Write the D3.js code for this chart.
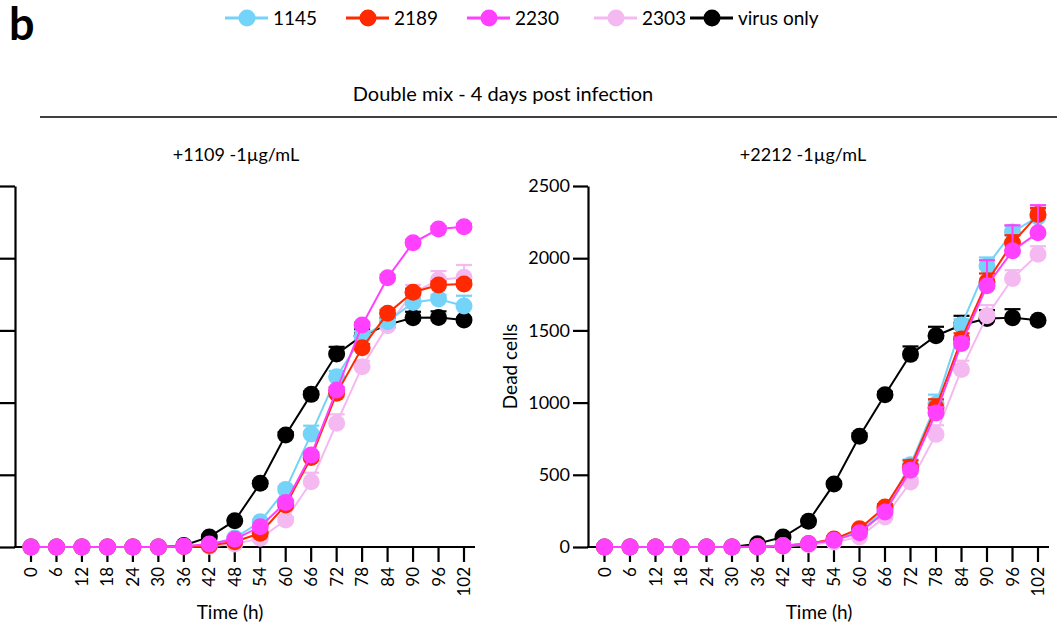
<!DOCTYPE html>
<html>
<head>
<meta charset="utf-8">
<script src="https://cdn.jsdelivr.net/npm/d3@7"></script>
<style>
  body { margin: 0; background: #fff; }
  svg { font-family: "Lato", "Open Sans", sans-serif; }
</style>
</head>
<body>
<div id="chart"></div>
<script>

// ---- data ----
var times = [0, 6, 12, 18, 24, 30, 36, 42, 48, 54, 60, 66, 72, 78, 84, 90, 96, 102];
var yTicks = [0, 500, 1000, 1500, 2000, 2500];

// legend order
var legendNames = ["1145", "2189", "2230", "2303", "virus only"];
// draw order (bottom to top)
var drawOrder = ["virus only", "2303", "1145", "2189", "2230"];
var seriesColors = {"1145": "#74d3f8", "2189": "#ff2a00", "2230": "#ff40ff", "2303": "#f5b9f2", "virus only": "#000000"};

var panelTitles = ["+1109 -1\u00b5g/mL", "+2212 -1\u00b5g/mL"];

// panel 1 : +1109
var p1Virus = [0, 0, 0, 0, 0, 0, 10, 70, 182, 441, 776, 1057, 1336, 1463, 1540, 1588, 1590, 1572];
var p1VirusErr = [0, 0, 0, 0, 0, 0, 0, 8, 10, 15, 20, 20, 50, 45, 45, 41, 42, 15];
var p1S2303 = [0, 0, 0, 0, 0, 0, 3, 5, 20, 60, 187, 452, 857, 1249, 1533, 1760, 1849, 1868];
var p1S2303Err = [0, 0, 0, 0, 0, 0, 0, 0, 5, 10, 20, 62, 62, 40, 40, 55, 62, 85];
var p1S1145 = [0, 0, 0, 0, 0, 0, 3, 15, 62, 175, 399, 782, 1179, 1456, 1560, 1694, 1717, 1669];
var p1S1145Err = [0, 0, 0, 0, 0, 0, 0, 0, 5, 15, 20, 58, 40, 40, 30, 30, 30, 71];
var p1S2189 = [0, 0, 0, 0, 0, 0, 3, 10, 37, 95, 291, 620, 1064, 1380, 1618, 1764, 1814, 1821];
var p1S2189Err = [0, 0, 0, 0, 0, 0, 0, 0, 5, 10, 20, 20, 20, 25, 25, 25, 25, 25];
var p1S2230 = [0, 0, 0, 0, 0, 0, 5, 21, 53, 141, 309, 637, 1087, 1537, 1865, 2107, 2202, 2218];
var p1S2230Err = [0, 0, 0, 0, 0, 0, 0, 0, 5, 10, 15, 20, 20, 20, 20, 20, 20, 20];

// panel 2 : +2212
var p2Virus = [0, 0, 0, 0, 0, 0, 23, 69, 178, 437, 767, 1055, 1334, 1463, 1537, 1583, 1588, 1571];
var p2VirusErr = [0, 0, 0, 0, 0, 0, 0, 5, 10, 15, 20, 20, 55, 62, 64, 57, 59, 10];
var p2S2303 = [0, 0, 0, 0, 0, 0, 2, 5, 15, 35, 69, 208, 450, 780, 1230, 1601, 1859, 2028];
var p2S2303Err = [0, 0, 0, 0, 0, 0, 0, 0, 5, 5, 10, 20, 30, 63, 60, 74, 58, 55];
var p2S1145 = [0, 0, 0, 0, 0, 0, 2, 8, 25, 50, 110, 260, 570, 990, 1537, 1947, 2182, 2286];
var p2S1145Err = [0, 0, 0, 0, 0, 0, 0, 0, 5, 5, 10, 20, 35, 65, 40, 58, 40, 50];
var p2S2189 = [0, 0, 0, 0, 0, 0, 2, 8, 22, 55, 127, 277, 554, 965, 1440, 1836, 2106, 2302];
var p2S2189Err = [0, 0, 0, 0, 0, 0, 0, 0, 5, 5, 10, 20, 46, 58, 40, 58, 53, 46];
var p2S2230 = [0, 0, 0, 0, 0, 0, 2, 10, 23, 46, 99, 242, 531, 928, 1410, 1809, 2051, 2177];
var p2S2230Err = [0, 0, 0, 0, 0, 0, 0, 0, 5, 5, 10, 20, 30, 40, 40, 177, 177, 190];

var panelData = [
    {"virus only": [p1Virus, p1VirusErr], "2303": [p1S2303, p1S2303Err], "1145": [p1S1145, p1S1145Err],
     "2189": [p1S2189, p1S2189Err], "2230": [p1S2230, p1S2230Err]},
    {"virus only": [p2Virus, p2VirusErr], "2303": [p2S2303, p2S2303Err], "1145": [p2S1145, p2S1145Err],
     "2189": [p2S2189, p2S2189Err], "2230": [p2S2230, p2S2230Err]}
];


var W = 1057, H = 627;
var svg = d3.select("#chart").append("svg").attr("width", W).attr("height", H);

// panel label + legend + header
svg.append("text").attr("x", 9).attr("y", 40)
    .style("font-size", "45px").style("font-weight", "bold").text("b");

var legendCenters = [247, 368, 489, 616, 712];
var legend = svg.append("g");
legendNames.forEach(function(name, i) {
    var cx = legendCenters[i];
    var g = legend.append("g").attr("transform", "translate(" + cx + ",18)");
    g.append("line").attr("x1", -22).attr("x2", 21)
        .attr("stroke", seriesColors[name]).attr("stroke-width", 3);
    g.append("circle").attr("r", 8.5).attr("fill", seriesColors[name]);
    g.append("text").attr("x", 26).attr("y", 7)
        .style("font-size", "19px").text(name);
});

svg.append("text").attr("x", 503).attr("y", 101).attr("text-anchor", "middle")
    .style("font-size", "20px").text("Double mix - 4 days post infection");
svg.append("line").attr("x1", 40).attr("x2", W).attr("y1", 117).attr("y2", 117)
    .attr("stroke", "#000").attr("stroke-width", 1.5);


/**
 * PanelVis -- one time course panel
 * _showYText -- the left panel is cropped in the figure, so its y labels are not drawn
 */
PanelVis = function(_parent, _data, _title, _axisX, _x0, _x1, _titleX, _xLabelX, _showYText){
    this.parent = _parent;
    this.data = _data;
    this.title = _title;
    this.axisX = _axisX;
    this.x0 = _x0;
    this.x1 = _x1;
    this.titleX = _titleX;
    this.xLabelX = _xLabelX;
    this.showYText = _showYText;
    this.top = 186;
    this.bottom = 547;
    this.initVis();
}

PanelVis.prototype.initVis = function(){
    this.x = d3.scaleLinear().domain([0, 102]).range([this.x0, this.x1]);
    this.y = d3.scaleLinear().domain([0, 2500]).range([this.bottom, this.top]);
    this.g = this.parent.append("g");
    this.updateVis();
}

PanelVis.prototype.updateVis = function(){
    var that = this;
    var g = this.g;

    g.append("text").attr("x", this.titleX).attr("y", 161).attr("text-anchor", "middle")
        .style("font-size", "18px").text(this.title);

    // y axis
    var yAxis = d3.axisLeft(this.y).tickValues(yTicks).tickFormat(d3.format("d"))
        .tickSize(15).tickPadding(3).tickSizeOuter(0);
    var ya = g.append("g").attr("transform", "translate(" + this.axisX + ",0)").call(yAxis);
    ya.select(".domain").attr("stroke-width", 2.2);
    ya.selectAll(".tick line").attr("stroke-width", 2.2);
    ya.selectAll(".tick text").style("font-size", "18px").style("font-family", "Lato");

    if (this.showYText) {
        g.append("text")
            .attr("transform", "translate(" + (this.axisX - 71) + "," + ((this.top + this.bottom) / 2) + ") rotate(-90)")
            .attr("text-anchor", "middle").style("font-size", "19px").text("Dead cells");
    } else {
        ya.selectAll(".tick text").remove();
    }

    // x axis
    var xEnd = this.x1 + 11;
    g.append("line").attr("x1", this.axisX - 1).attr("x2", xEnd)
        .attr("y1", this.bottom).attr("y2", this.bottom)
        .attr("stroke", "#000").attr("stroke-width", 2.2);
    var xt = g.selectAll(".xtick").data(times).enter().append("g")
        .attr("class", "xtick")
        .attr("transform", function(d){ return "translate(" + that.x(d) + "," + that.bottom + ")"; });
    xt.append("line").attr("y1", 0).attr("y2", 15).attr("stroke", "#000").attr("stroke-width", 2.2);
    xt.append("text").attr("transform", "translate(6,20) rotate(-90)")
        .attr("text-anchor", "end").style("font-size", "17px").text(function(d){ return d; });

    g.append("text").attr("x", this.xLabelX).attr("y", 619).attr("text-anchor", "middle")
        .style("font-size", "19px").text("Time (h)");

    // series
    var line = d3.line()
        .x(function(d){ return that.x(d.t); })
        .y(function(d){ return that.y(d.v); });

    drawOrder.forEach(function(name){
        var vals = that.data[name][0], errs = that.data[name][1];
        var pts = times.map(function(t, i){ return {t: t, v: vals[i], e: errs[i]}; });
        var col = seriesColors[name];
        var sg = g.append("g");

        var eb = sg.selectAll(".err").data(pts.filter(function(d){ return d.e > 0; })).enter().append("g");
        eb.append("line")
            .attr("x1", function(d){ return that.x(d.t); }).attr("x2", function(d){ return that.x(d.t); })
            .attr("y1", function(d){ return that.y(d.v); }).attr("y2", function(d){ return that.y(d.v + d.e); })
            .attr("stroke", col).attr("stroke-width", 2);
        eb.append("line")
            .attr("x1", function(d){ return that.x(d.t) - 8; }).attr("x2", function(d){ return that.x(d.t) + 8; })
            .attr("y1", function(d){ return that.y(d.v + d.e); }).attr("y2", function(d){ return that.y(d.v + d.e); })
            .attr("stroke", col).attr("stroke-width", 2.2);

        sg.append("path").datum(pts).attr("d", line)
            .attr("fill", "none").attr("stroke", col).attr("stroke-width", 2);

        sg.selectAll("circle").data(pts).enter().append("circle")
            .attr("cx", function(d){ return that.x(d.t); })
            .attr("cy", function(d){ return that.y(d.v); })
            .attr("r", 8.5).attr("fill", col);
    });
};

new PanelVis(svg, panelData[0], panelTitles[0], 15, 31, 464, 236, 230, false);
new PanelVis(svg, panelData[1], panelTitles[1], 588, 604.5, 1038, 803, 819, true);

</script>
</body>
</html>
